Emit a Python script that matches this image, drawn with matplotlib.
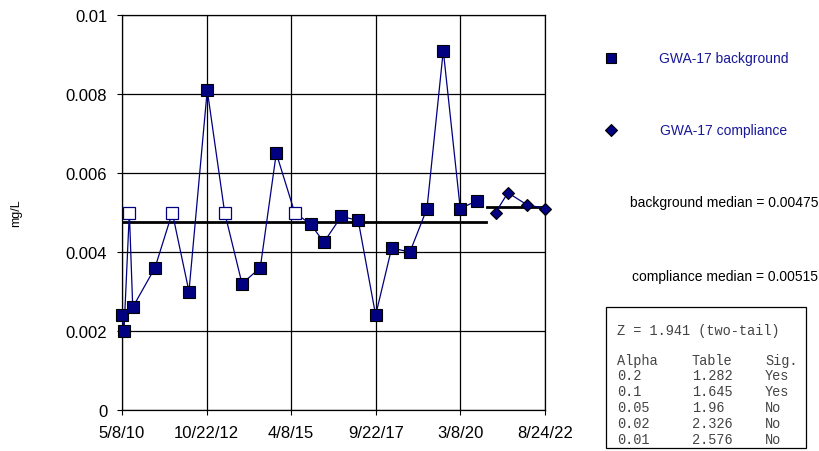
import matplotlib
matplotlib.use("Agg")
import matplotlib.pyplot as plt
import matplotlib.dates as mdates
from matplotlib.lines import Line2D
import numpy as np
from datetime import datetime

plt.rcParams['font.family'] = ['Liberation Sans', 'DejaVu Sans']

# background samples (open = non-detect, plotted hollow)
bg_dates = ["2010-05-08", "2010-05-29", "2010-07-25", "2010-08-30", "2011-04-23",
            "2011-10-24", "2012-04-18", "2012-10-29", "2013-05-02", "2013-11-02",
            "2014-05-15", "2014-11-01", "2015-05-15", "2015-11-01", "2016-03-21",
            "2016-09-21", "2017-03-20", "2017-09-21", "2018-03-10", "2018-09-20",
            "2019-03-20", "2019-09-09", "2020-03-07", "2020-09-03"]
bg_vals = [0.0024, 0.002, 0.005, 0.0026, 0.0036, 0.005, 0.003, 0.0081, 0.005, 0.0032,
           0.0036, 0.0065, 0.005, 0.0047, 0.00425, 0.0049, 0.0048, 0.0024, 0.0041, 0.004,
           0.0051, 0.0091, 0.0051, 0.0053]
bg_nd = [False, False, True, False, False, True, False, False, True, False,
         False, False, True, False, False, False, False, False, False, False,
         False, False, False, False]

cp_dates = ["2021-03-18", "2021-07-26", "2022-02-10", "2022-08-24"]
cp_vals = [0.005, 0.0055, 0.0052, 0.0051]

bg_median = 0.00475
cp_median = 0.00515
bg_median_span = ["2010-05-08", "2020-12-10"]
cp_median_span = ["2020-12-20", "2022-08-24"]

tick_dates = ["2010-05-08", "2012-10-22", "2015-04-08", "2017-09-22", "2020-03-08", "2022-08-24"]
tick_labels = ["5/8/10", "10/22/12", "4/8/15", "9/22/17", "3/8/20", "8/24/22"]

table_rows = [("0.2", "1.282", "Yes"), ("0.1", "1.645", "Yes"), ("0.05", "1.96", "No"),
              ("0.02", "2.326", "No"), ("0.01", "2.576", "No")]
z_stat = "1.941"

navy = "#000080"
label_blue = "#18189a"

def to_num(lst):
    return mdates.date2num([datetime.strptime(s, "%Y-%m-%d") for s in lst])

bx = to_num(bg_dates)
cx = to_num(cp_dates)
tx = to_num(tick_dates)

W, H = 819, 452
fig = plt.figure(figsize=(W / 100, H / 100), dpi=100)
ax = fig.add_axes([122 / W, 1 - 411 / H, 423 / W, 395 / H])

ax.plot(bx, bg_vals, color=navy, lw=0.9, zorder=3, clip_on=False)
nd = np.array(bg_nd)
bva = np.array(bg_vals)
ax.plot(bx[~nd], bva[~nd], 's', ms=8, mfc=navy, mec="black", mew=0.8, zorder=4, clip_on=False)
ax.plot(bx[nd], bva[nd], 's', ms=8, mfc="white", mec=navy, mew=0.9, zorder=4, clip_on=False)

ax.plot(cx, cp_vals, color=navy, lw=0.9, zorder=3, clip_on=False)
ax.plot(cx, cp_vals, 'D', ms=6.5, mfc=navy, mec="black", mew=0.8, zorder=4, clip_on=False)

ax.plot(to_num(bg_median_span), [bg_median, bg_median], color="black", lw=2, zorder=2)
ax.plot(to_num(cp_median_span), [cp_median, cp_median], color="black", lw=2, zorder=2)

ax.set_xlim(tx[0], tx[-1])
ax.set_ylim(0, 0.01)
ax.set_xticks(tx)
ax.set_xticklabels(tick_labels)
ax.set_yticks([0, 0.002, 0.004, 0.006, 0.008, 0.01])
ax.set_yticklabels(["0", "0.002", "0.004", "0.006", "0.008", "0.01"])
ax.tick_params(labelsize=12, length=3.6, width=0.8, color="black")
ax.tick_params(axis="y", pad=7)
ax.tick_params(axis="x", pad=7)
ax.grid(True, color="black", lw=0.9)
ax.set_axisbelow(True)
for s in ax.spines.values():
    s.set_linewidth(0.9)
fig.text(16 / W, 1 - 213 / H, "mg/L", fontsize=9, rotation=90, ha="center", va="center")

# legend-like annotations
fig.add_artist(Line2D([611 / W], [1 - 59 / H], marker='s', ms=7.5, mfc=navy, mec="black",
                      mew=0.8, transform=fig.transFigure))
fig.add_artist(Line2D([611 / W], [1 - 131 / H], marker='D', ms=6, mfc=navy, mec="black",
                      mew=0.8, transform=fig.transFigure))
fig.text(724 / W, 1 - 59 / H, "GWA-17 background", color=label_blue, fontsize=10, ha="center", va="center")
fig.text(724 / W, 1 - 131 / H, "GWA-17 compliance", color=label_blue, fontsize=10, ha="center", va="center")
fig.text(724 / W, 1 - 203 / H, "background median = %g" % bg_median, fontsize=10, ha="center", va="center")
fig.text(725 / W, 1 - 277 / H, "compliance median = %g" % cp_median, fontsize=10, ha="center", va="center")

# stats box
box = plt.Rectangle((606 / W, 1 - 449 / H), 200 / W, 141 / H, transform=fig.transFigure,
                    fill=False, ec="black", lw=0.9)
fig.patches.append(box)
mono = "Liberation Mono"
tc = "#444444"
fig.text(617 / W, 1 - 331 / H, "Z = %s (two-tail)" % z_stat, family=mono, fontsize=9.8, va="center", color=tc)
cols = [617, 692, 765]
for c, v in zip(cols, ["Alpha", "Table", "Sig."]):
    fig.text(c / W, 1 - 361 / H, v, family=mono, fontsize=9.8, va="center", color=tc)
for i, row in enumerate(table_rows):
    y = 1 - (376.5 + i * 15.8) / H
    for c, v in zip(cols, row):
        fig.text(c / W, y, v, family=mono, fontsize=9.8, va="center", color=tc)

fig.savefig("out.png", dpi=100)
